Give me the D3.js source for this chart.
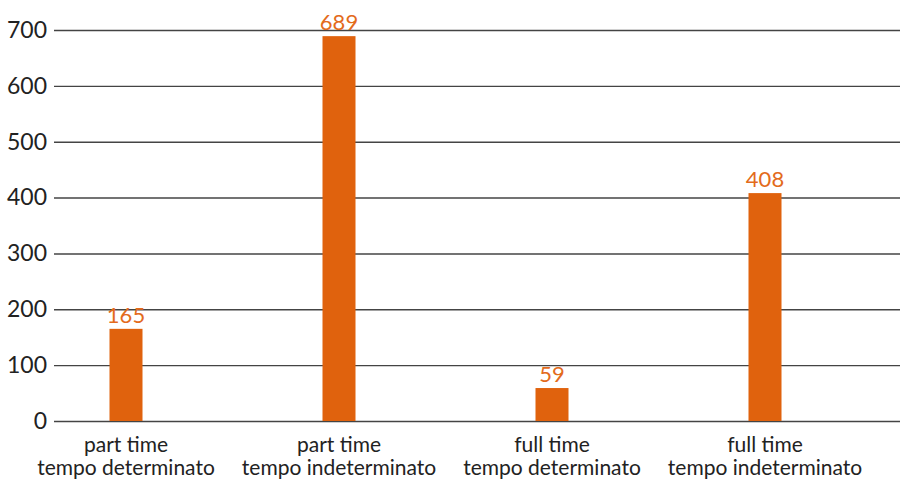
<!DOCTYPE html>
<html>
<head>
<meta charset="utf-8">
<script src="https://cdn.jsdelivr.net/npm/d3@7"></script>
<style>
  html, body { margin: 0; padding: 0; background: #fff; }
  svg { display: block; }
  text { font-family: Lato, "Open Sans", sans-serif; }
</style>
</head>
<body>
<div id="chart"></div>
<script>
// Contratti per tipologia
const categories = [
  ["part time", "tempo determinato"],
  ["part time", "tempo indeterminato"],
  ["full time", "tempo determinato"],
  ["full time", "tempo indeterminato"]
];
const values = [165, 689, 59, 408];
const yTicks = [0, 100, 200, 300, 400, 500, 600, 700];

const width = 900, height = 481;
const barColor = "#e0620d";
const labelColor = "#e36b1c";

const svg = d3.select("#chart").append("svg")
  .attr("width", width).attr("height", height);

const y = d3.scaleLinear().domain([0, 700]).range([421, 30]);
const x = d3.scalePoint().domain(d3.range(categories.length)).range([126, 765]);
const barW = 33;

// gridlines + y labels
const yAxis = d3.axisLeft(y).tickValues(yTicks).tickSize(-(width - 54)).tickPadding(7).tickFormat(d3.format("d"));
const gy = svg.append("g").attr("transform", "translate(54,0)").call(yAxis);
gy.select(".domain").remove();
gy.selectAll(".tick line").attr("stroke", "#444").attr("stroke-width", 1.4);
gy.selectAll(".tick text").attr("fill", "#222").attr("font-size", 23).attr("x", -7);

// bars
svg.append("g").selectAll("rect").data(values).join("rect")
  .attr("x", (d, i) => x(i) - barW / 2)
  .attr("y", d => y(d))
  .attr("width", barW)
  .attr("height", d => y(0) - y(d))
  .attr("fill", barColor);

// value labels
svg.append("g").selectAll("text").data(values).join("text")
  .attr("x", (d, i) => x(i))
  .attr("y", d => y(d) - 6)
  .attr("text-anchor", "middle")
  .attr("fill", labelColor)
  .attr("font-size", 22)
  .text(d => d);

// category labels
const cat = svg.append("g").selectAll("text").data(categories).join("text")
  .attr("text-anchor", "middle")
  .attr("fill", "#222")
  .attr("font-size", 21);
cat.each(function(lines, i) {
  d3.select(this).selectAll("tspan").data(lines).join("tspan")
    .attr("x", x(i))
    .attr("y", (l, j) => 452 + j * 23)
    .text(l => l);
});
</script>
</body>
</html>
